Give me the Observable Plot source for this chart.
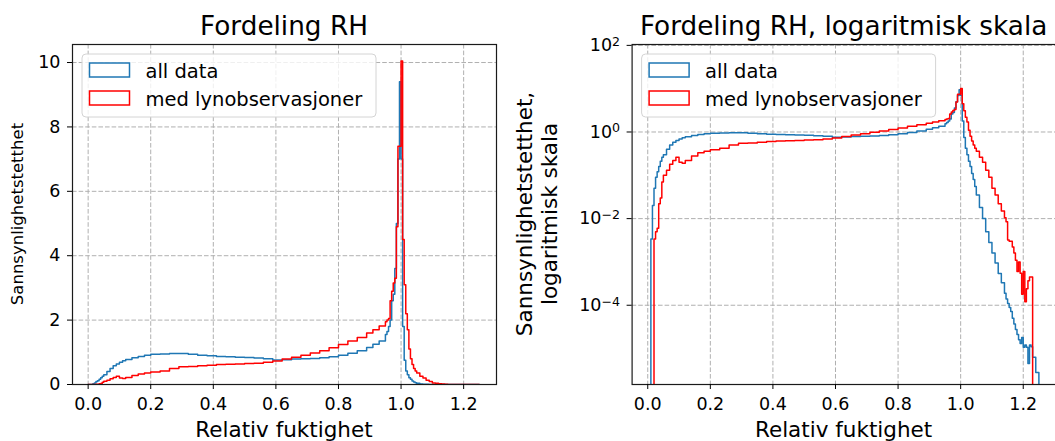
<!DOCTYPE html>
<html><head><meta charset="utf-8">
<script src="https://cdn.jsdelivr.net/npm/d3@7"></script>
<script src="https://cdn.jsdelivr.net/npm/@observablehq/plot@0.6"></script>
<style>
html,body{margin:0;padding:0;background:#fff;overflow:hidden;}
#wrap{position:relative;width:1055px;height:441px;overflow:hidden;}
#wrap svg{position:absolute;top:0;}
</style></head>
<body><div id="wrap"></div>
<script>
// bin left edges (relative humidity)
const rh = [
 0.000, 0.010, 0.015, 0.020, 0.025, 0.030, 0.035, 0.040, 0.045, 0.050,
 0.06, 0.07, 0.08, 0.09, 0.10, 0.11, 0.12,
 0.14, 0.16, 0.18, 0.20, 0.23, 0.26, 0.29,
 0.32, 0.35, 0.38, 0.41, 0.44, 0.47, 0.50, 0.53, 0.56, 0.59,
 0.62, 0.65, 0.68, 0.71, 0.74, 0.77, 0.80, 0.83, 0.86, 0.89, 0.91, 0.93,
 0.950, 0.955, 0.960, 0.965, 0.970, 0.975, 0.980, 0.985, 0.990, 0.995, 1.000, 1.005, 1.010, 1.015, 1.020, 1.025, 1.030, 1.035, 1.040, 1.045,
 1.05, 1.06, 1.07, 1.08, 1.09, 1.10, 1.11, 1.12, 1.13, 1.14, 1.145,
 1.150, 1.155, 1.160, 1.165, 1.170, 1.175, 1.180, 1.185, 1.190, 1.195, 1.200, 1.205, 1.210, 1.215, 1.220, 1.225, 1.230, 1.235, 1.240, 1.245, 1.250
];
// density, all data
const allData = [
 0, 0.0034, 0.02, 0.05, 0.09, 0.12, 0.16, 0.21, 0.26, 0.30,
 0.40, 0.50, 0.58, 0.64, 0.69, 0.74, 0.78,
 0.83, 0.87, 0.91, 0.94, 0.95, 0.96, 0.96,
 0.94, 0.91, 0.89, 0.87, 0.86, 0.85, 0.84, 0.82, 0.80, 0.76,
 0.77, 0.79, 0.80, 0.81, 0.83, 0.86, 0.91, 0.97, 1.05, 1.15, 1.25, 1.35,
 1.55, 1.65, 1.80, 2.0, 2.6, 2.8, 3.6, 5.0, 7.0, 9.4, 7.0, 1.8, 0.75, 0.42, 0.30, 0.21, 0.16, 0.11, 0.08, 0.055,
 0.035, 0.018, 0.010, 0.005, 0.0028, 0.0016, 0.00095, 0.00054, 0.00033, 0.00019, 0.00014,
 1.1e-4, 8.9e-5, 7.2e-5, 5.0e-5, 3.7e-5, 2.75e-5, 2.1e-5, 1.6e-5, 1.3e-5, 1.8e-5, 1.07e-5, 1.2e-5, 1.07e-5, 4.5e-6, 1.2e-5, 1.1e-5, 6.3e-6, 6.3e-6, 2.8e-6, 2.8e-6, 0
];
// density, with lightning observations
const lyn = [
 0, 0, 0, 0.0034, 0.005, 0.006, 0.022, 0.03, 0.07, 0.10,
 0.13, 0.18, 0.22, 0.26, 0.20, 0.19, 0.22,
 0.28, 0.33, 0.36, 0.39, 0.42, 0.50, 0.55,
 0.56, 0.58, 0.60, 0.62, 0.63, 0.64, 0.65, 0.66, 0.69, 0.73,
 0.79, 0.85, 0.91, 0.98, 1.05, 1.14, 1.24, 1.35, 1.46, 1.60, 1.70, 1.82,
 1.95, 2.0, 2.05, 2.6, 2.9, 3.15, 3.3, 4.9, 7.4, 7.4, 10.05, 4.5, 3.1, 2.2, 1.7, 1.1, 0.8, 0.62, 0.5, 0.42,
 0.36, 0.26, 0.20, 0.13, 0.09, 0.05, 0.035, 0.022, 0.015, 0.0105, 0.0085,
 0.0032, 0.0030, 0.0030, 0.0022, 0.0016, 0.0011, 0.0006, 0.0010, 0.00055, 0.00018, 0.0006, 0.00012, 0.00024, 0.00037, 0.00045, 0.00045, 0, 0, 0, 0, 0
];
const seriesNames = ["all data", "med lynobservasjoner"];
const seriesColors = ["#1f77b4", "#ff0000"];
const xTicks = [0, 0.2, 0.4, 0.6, 0.8, 1.0, 1.2];
const yTicksLin = [0, 2, 4, 6, 8, 10];
const yTicksLog = [1e-4, 1e-2, 1, 1e2];
const titles = ["Fordeling RH", "Fordeling RH, logaritmisk skala"];
const xLabel = "Relativ fuktighet";
const yLabelLin = "Sannsynlighetstetthet";
const yLabelLog = ["Sannsynlighetstetthet,", "logaritmisk skala"];

const rows = [];
rh.forEach((x, i) => rows.push({x, v: allData[i], s: seriesNames[0]}));
rh.forEach((x, i) => rows.push({x, v: lyn[i], s: seriesNames[1]}));

const FONT = "DejaVu Sans, sans-serif";
const expOf = d => Math.round(Math.log10(d));
const fmtPow = d => "10^" + expOf(d);

const gridStyle = {stroke: "#b0b0b0", strokeOpacity: 1, strokeWidth: 1, strokeDasharray: "4.6,2"};

function panel(o) {
  const svg = Plot.plot({
    width: o.width, height: 441,
    marginTop: 44, marginBottom: 57, marginLeft: o.ml, marginRight: o.mr,
    style: {fontFamily: FONT, fontSize: "17.5px", color: "#000", background: "transparent", overflow: "visible"},
    x: {domain: [-0.05, 1.305]},
    y: o.log ? {type: "log", domain: [Math.pow(10, -5.83), Math.pow(10, 2.02)]} : {domain: [0, 10.56]},
    color: {domain: seriesNames, range: seriesColors},
    marks: [
      Plot.gridX(xTicks, gridStyle),
      Plot.gridY(o.yTicks, gridStyle),
      Plot.line(rows, {x: "x", y: o.log ? (d => d.v > 0 ? d.v : 1e-9) : "v", z: "s", stroke: "s",
        curve: "step-after", strokeWidth: 1.5, clip: true}),
      Plot.frame({stroke: "#1a1a1a", strokeWidth: 1.2}),
      Plot.axisX(xTicks, {tickFormat: d3.format(".1f"), tickSize: 5, tickPadding: 8, label: null, fontSize: 17.5}),
      Plot.axisY(o.yTicks, {tickFormat: o.log ? fmtPow : d3.format("d"), tickSize: 5, tickPadding: 7, label: null, fontSize: 17.5})
    ]
  });
  svg.style.left = o.left + "px";
  const s = d3.select(svg);
  // render 10^n tick labels with a real superscript
  if (o.log) {
    s.selectAll("text").each(function() {
      const t = this.textContent;
      const m = /^10\^(-?\d+)$/.exec(t);
      if (!m) return;
      const el = d3.select(this);
      el.text("10");
      el.append("tspan").attr("dy", "-0.42em").attr("font-size", "0.72em")
        .text(m[1].replace("-", "\u2212"));
    });
  }
  const cx = o.ml + (o.width - o.ml - o.mr) / 2;
  s.append("text").attr("x", cx).attr("y", 34.5).attr("text-anchor", "middle")
    .attr("font-family", FONT).attr("font-size", 26.3).attr("fill", "#000").text(o.title);
  s.append("text").attr("x", cx).attr("y", 436.5).attr("text-anchor", "middle")
    .attr("font-family", FONT).attr("font-size", 21.5).attr("fill", "#000").text(xLabel);
  o.ylab.forEach((t, i) => {
    s.append("text").attr("transform", `translate(${t.x},214) rotate(-90)`).attr("text-anchor", "middle")
      .attr("font-family", FONT).attr("font-size", t.size).attr("fill", "#000").text(t.text);
  });
  // legend
  const lx = o.ml + 10, ly = 54;
  const g = s.append("g");
  g.append("rect").attr("x", lx).attr("y", ly).attr("width", 294).attr("height", 63).attr("rx", 4)
    .attr("fill", "#fff").attr("fill-opacity", 0.8).attr("stroke", "#d4d4d4").attr("stroke-width", 1);
  seriesNames.forEach((name, i) => {
    const hy = 63 + i * 28;
    g.append("rect").attr("x", lx + 7.5).attr("y", hy).attr("width", 40).attr("height", 14)
      .attr("fill", "none").attr("stroke", seriesColors[i]).attr("stroke-width", 1.5);
    g.append("text").attr("x", lx + 63.5).attr("y", hy + 14.5).attr("text-anchor", "start")
      .attr("font-family", FONT).attr("font-size", 19.5).attr("fill", "#000").text(name);
  });
  document.getElementById("wrap").appendChild(svg);
}

panel({left: 0, width: 520, ml: 72, mr: 24, log: false, yTicks: yTicksLin, title: titles[0],
  ylab: [{x: 23, size: 16.5, text: yLabelLin}]});
panel({left: 520, width: 540, ml: 111.6, mr: 4.4, log: true, yTicks: yTicksLog, title: titles[1],
  ylab: [{x: 11.5, size: 21.5, text: yLabelLog[0]}, {x: 37, size: 21.5, text: yLabelLog[1]}]});
</script>
</body></html>
